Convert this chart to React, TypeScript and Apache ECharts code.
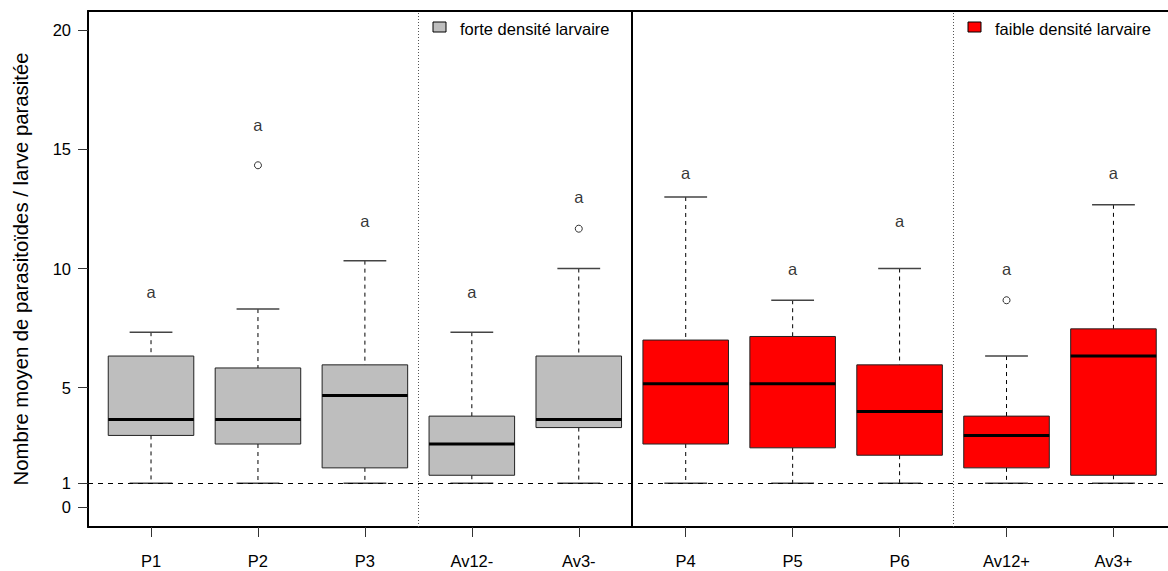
import React, { useEffect, useRef } from "react";
import * as echarts from "echarts";

const categories = ["P1", "P2", "P3", "Av12-", "Av3-", "P4", "P5", "P6", "Av12+", "Av3+"];
const groupOfBox = [0, 0, 0, 0, 0, 1, 1, 1, 1, 1];
const whiskerLow = [1, 1, 1, 1, 1, 1, 1, 1, 1, 1];
const quartile1 = [3.0, 2.64, 1.64, 1.33, 3.33, 2.64, 2.48, 2.17, 1.64, 1.33];
const medians = [3.67, 3.67, 4.67, 2.64, 3.67, 5.17, 5.17, 4.0, 3.0, 6.33];
const quartile3 = [6.33, 5.83, 5.96, 3.81, 6.33, 7.0, 7.15, 5.96, 3.81, 7.47];
const whiskerHigh = [7.33, 8.3, 10.33, 7.33, 10.0, 13.0, 8.67, 10.0, 6.33, 12.67];
const outlierBox = [2, 5, 9];
const outlierValue = [14.33, 11.67, 8.67];
const letterY = [9, 16, 12, 9, 13, 14, 10, 12, 10, 14];
const letters = ["a", "a", "a", "a", "a", "a", "a", "a", "a", "a"];
const groupNames = ["forte densité larvaire", "faible densité larvaire"];
const groupColors = ["#BEBEBE", "#FF0000"];
const yTicks = [0, 1, 5, 10, 15, 20];
const xTicks = [1, 2, 3, 4, 5, 6, 7, 8, 9, 10];
const yTitle = "Nombre moyen de parasitoïdes / larve parasitée";

const FONT = "'Liberation Sans', Arial, Helvetica, sans-serif";
const FS = 16.5;

export default function App() {
  const ref = useRef<HTMLDivElement>(null);
  useEffect(() => {
    if (!ref.current) return;
    const chart = echarts.init(ref.current, null, { renderer: "svg" });
    const boxData = categories.map((_, i) => [
      i + 1,
      whiskerLow[i],
      quartile1[i],
      medians[i],
      quartile3[i],
      whiskerHigh[i],
      groupOfBox[i],
    ]);
    const xMin = 0.4107;
    const xMax = 10.51;
    const option: any = {
      animation: false,
      textStyle: { fontFamily: FONT },
      grid: { left: 88, top: 11, width: 1080, height: 516, containLabel: false },
      xAxis: [
        {
          type: "value",
          min: xMin,
          max: xMax,
          splitLine: { show: false },
          axisLine: { show: true, onZero: false, lineStyle: { color: "#000", width: 2 } },
          axisTick: { show: true, customValues: xTicks, length: 10, lineStyle: { color: "#333", width: 1 } },
          axisLabel: {
            customValues: xTicks,
            margin: 25,
            fontSize: FS,
            color: "#000",
            fontFamily: FONT,
            formatter: (v: number) => categories[Math.round(v) - 1] ?? "",
          },
        },
        {
          type: "value",
          position: "top",
          min: xMin,
          max: xMax,
          splitLine: { show: false },
          axisLine: { show: true, onZero: false, lineStyle: { color: "#000", width: 2 } },
          axisTick: { show: false },
          axisLabel: { show: false },
        },
      ],
      yAxis: {
        type: "value",
        min: -0.84,
        max: 20.8,
        splitLine: { show: false },
        axisLine: { show: true, lineStyle: { color: "#000", width: 2 } },
        axisTick: { show: true, customValues: yTicks, length: 10, lineStyle: { color: "#333", width: 1 } },
        axisLabel: { customValues: yTicks, margin: 17, fontSize: FS, color: "#000", fontFamily: FONT },
        name: yTitle,
        nameLocation: "middle",
        nameGap: 57,
        nameRotate: 90,
        nameTextStyle: { fontSize: 20.3, color: "#000", fontFamily: FONT },
      },
      graphic: [
        { type: "rect", shape: { x: 433, y: 22, width: 13, height: 10 }, style: { fill: groupColors[0], stroke: "#000", lineWidth: 1 } },
        { type: "text", x: 460, y: 29, style: { text: groupNames[0], fill: "#000", font: `${FS}px ${FONT}`, verticalAlign: "middle" } },
        { type: "rect", shape: { x: 968, y: 22, width: 13, height: 10 }, style: { fill: groupColors[1], stroke: "#000", lineWidth: 1 } },
        { type: "text", x: 995, y: 29, style: { text: groupNames[1], fill: "#000", font: `${FS}px ${FONT}`, verticalAlign: "middle" } },
      ],
      series: [
        {
          type: "custom",
          data: boxData,
          encode: { x: 0, y: [1, 2, 3, 4, 5] },
          z: 3,
          renderItem: (params: any, api: any) => {
            const x = api.value(0);
            const lo = api.coord([x, api.value(1)]);
            const q1 = api.coord([x, api.value(2)]);
            const md = api.coord([x, api.value(3)]);
            const q3 = api.coord([x, api.value(4)]);
            const hi = api.coord([x, api.value(5)]);
            const g = api.value(6);
            const unit = api.size([1, 0])[0];
            const bw = unit * 0.8;
            const cw = unit * 0.4;
            const cx = md[0];
            const dash = { stroke: "#000", lineWidth: 1, lineDash: [4, 4] };
            const cap = { stroke: "#444", lineWidth: 1.5 };
            return {
              type: "group",
              children: [
                { type: "line", shape: { x1: cx, y1: hi[1], x2: cx, y2: q3[1] }, style: dash },
                { type: "line", shape: { x1: cx, y1: q1[1], x2: cx, y2: lo[1] }, style: dash },
                { type: "line", shape: { x1: cx - cw / 2, y1: hi[1], x2: cx + cw / 2, y2: hi[1] }, style: cap },
                { type: "line", shape: { x1: cx - cw / 2, y1: lo[1], x2: cx + cw / 2, y2: lo[1] }, style: cap },
                {
                  type: "rect",
                  shape: { x: cx - bw / 2, y: q3[1], width: bw, height: q1[1] - q3[1] },
                  style: { fill: groupColors[g], stroke: "#222", lineWidth: 1 },
                },
                { type: "line", shape: { x1: cx - bw / 2, y1: md[1], x2: cx + bw / 2, y2: md[1] }, style: { stroke: "#000", lineWidth: 3 } },
              ],
            };
          },
        },
        {
          type: "scatter",
          data: outlierBox.map((b, i) => [b, outlierValue[i]]),
          symbol: "circle",
          symbolSize: 7,
          z: 4,
          itemStyle: { color: "rgba(255,255,255,0)", borderColor: "#000", borderWidth: 1 },
        },
        {
          type: "scatter",
          data: letterY.map((y, i) => [i + 1, y, letters[i]]),
          symbolSize: 0,
          z: 4,
          label: {
            show: true,
            position: "inside",
            formatter: (p: any) => p.value[2],
            fontSize: FS,
            color: "#000",
            fontFamily: FONT,
          },
        },
        {
          type: "line",
          data: [],
          z: 1,
          markLine: {
            silent: true,
            symbol: ["none", "none"],
            label: { show: false },
            data: [
              { xAxis: 3.5, lineStyle: { color: "#555", width: 1, type: [1, 2] } },
              { xAxis: 5.5, lineStyle: { color: "#000", width: 2, type: "solid" } },
              { xAxis: 8.5, lineStyle: { color: "#555", width: 1, type: [1, 2] } },
              { yAxis: 1, lineStyle: { color: "#000", width: 1, type: [5, 5] } },
            ],
          },
        },
      ],
    };
    chart.setOption(option);
    return () => chart.dispose();
  }, []);
  return <div ref={ref} style={{ position: "absolute", left: 0, top: 0, width: 1168, height: 571 }} />;
}
